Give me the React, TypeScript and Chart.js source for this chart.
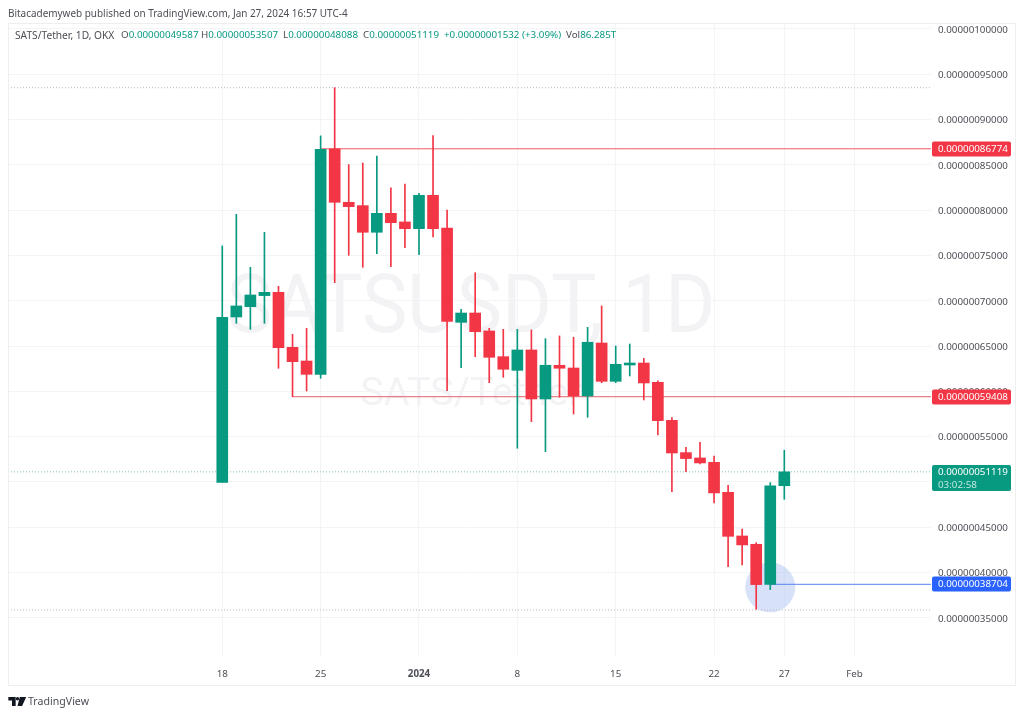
import React, { useEffect, useRef } from "react";
import { Chart, registerables, Plugin } from "chart.js";

Chart.register(...registerables);

// One entry per daily candle, 18 Dec 2023 onward (x = position in this list)
const dates = [
  "2023-12-18", "2023-12-19", "2023-12-20", "2023-12-21", "2023-12-22", "2023-12-23", "2023-12-24",
  "2023-12-25", "2023-12-26", "2023-12-27", "2023-12-28", "2023-12-29", "2023-12-30", "2023-12-31",
  "2024-01-01", "2024-01-02", "2024-01-03", "2024-01-04", "2024-01-05", "2024-01-06", "2024-01-07",
  "2024-01-08", "2024-01-09", "2024-01-10", "2024-01-11", "2024-01-12", "2024-01-13", "2024-01-14",
  "2024-01-15", "2024-01-16", "2024-01-17", "2024-01-18", "2024-01-19", "2024-01-20", "2024-01-21",
  "2024-01-22", "2024-01-23", "2024-01-24", "2024-01-25", "2024-01-26", "2024-01-27",
];
const opens = [
  49.96e-8, 68.21e-8, 69.35e-8, 70.57e-8, 70.93e-8, 64.86e-8, 63.35e-8,
  61.88e-8, 86.774e-8, 80.87e-8, 80.5e-8, 77.56e-8, 79.65e-8, 78.7e-8,
  77.96e-8, 81.64e-8, 78.03e-8, 67.62e-8, 68.65e-8, 66.67e-8, 63.83e-8,
  62.32e-8, 64.57e-8, 59.16e-8, 62.88e-8, 62.58e-8, 59.49e-8, 65.34e-8,
  61.11e-8, 62.91e-8, 63.13e-8, 61.0e-8, 56.8e-8, 53.24e-8, 52.65e-8,
  52.17e-8, 48.86e-8, 44.04e-8, 43.12e-8, 38.704e-8, 49.587e-8,
];
const closes = [
  68.18e-8, 69.43e-8, 70.64e-8, 70.93e-8, 64.82e-8, 63.28e-8, 61.88e-8,
  86.72e-8, 80.87e-8, 80.39e-8, 77.56e-8, 79.65e-8, 78.62e-8, 77.96e-8,
  81.64e-8, 77.96e-8, 67.73e-8, 68.65e-8, 66.59e-8, 63.76e-8, 62.44e-8,
  64.57e-8, 59.16e-8, 62.88e-8, 62.55e-8, 59.49e-8, 65.42e-8, 61.11e-8,
  62.99e-8, 63.13e-8, 60.93e-8, 56.77e-8, 53.2e-8, 52.58e-8, 52.1e-8,
  48.79e-8, 44.0e-8, 43.05e-8, 38.67e-8, 49.587e-8, 51.119e-8,
];
const highs = [
  76.05e-8, 79.54e-8, 73.69e-8, 77.56e-8, 71.6e-8, 66.3e-8, 66.96e-8,
  88.2e-8, 93.52e-8, 85.03e-8, 85.21e-8, 85.98e-8, 82.46e-8, 82.89e-8,
  81.86e-8, 88.23e-8, 80.02e-8, 69.06e-8, 73.1e-8, 66.96e-8, 66.85e-8,
  66.85e-8, 66.78e-8, 65.82e-8, 66.12e-8, 65.97e-8, 67.07e-8, 69.43e-8,
  65.01e-8, 65.23e-8, 63.65e-8, 61.15e-8, 57.1e-8, 53.82e-8, 54.38e-8,
  52.87e-8, 49.63e-8, 44.81e-8, 43.3e-8, 49.93e-8, 53.507e-8,
];
const lows = [
  49.96e-8, 67.51e-8, 66.85e-8, 67.51e-8, 62.55e-8, 59.41e-8, 60.04e-8,
  61.44e-8, 72.0e-8, 75.02e-8, 73.69e-8, 75.2e-8, 73.77e-8, 75.86e-8,
  75.09e-8, 77.04e-8, 60.08e-8, 62.62e-8, 63.83e-8, 60.96e-8, 61.55e-8,
  53.72e-8, 56.66e-8, 53.35e-8, 59.35e-8, 57.5e-8, 57.14e-8, 60.96e-8,
  60.96e-8, 61.7e-8, 59.05e-8, 55.2e-8, 48.93e-8, 51.14e-8, 52.0e-8,
  47.68e-8, 40.65e-8, 40.84e-8, 35.94e-8, 38.12e-8, 48.088e-8,
];

const priceTicks = [
  100e-8, 95e-8, 90e-8, 85e-8, 80e-8, 75e-8, 70e-8, 65e-8, 60e-8, 55e-8, 50e-8, 45e-8, 40e-8, 35e-8,
];
const timeTickDays = [0, 7, 14, 21, 28, 35, 40, 45];
const timeTickLabels = ["18", "25", "2024", "8", "15", "22", "27", "Feb"];

const resistanceLevel = 86.774e-8;
const midLevel = 59.408e-8;
const supportLevel = 38.704e-8;
const lastPrice = 51.119e-8;
const rangeHigh = 93.52e-8;
const rangeLow = 35.87e-8;

const lineStartDays = { resistance: 7, mid: 5, support: 39, dotted: -15.25 };
const lineEndDay = 50.44;
const countdown = "03:02:58";

const UP = "#089981";
const DOWN = "#F23645";
const GRID = "#f3f4f6";
const TEXT = "#4c4e56";
const FONT = '"Noto Sans", sans-serif';
const FONT_SIZE = 9.8;

const fmt = (v: number) => v.toFixed(11);

const overlayBack: Plugin = {
  id: "overlayBack",
  beforeDatasetsDraw(chart) {
    const { ctx, chartArea, scales } = chart;
    const x = scales.x;
    const y = scales.y;
    ctx.save();
    ctx.beginPath();
    ctx.rect(chartArea.left, chartArea.top, chartArea.width, chartArea.height);
    ctx.clip();
    // watermark
    ctx.fillStyle = "#f3f3f5";
    ctx.textAlign = "center";
    ctx.textBaseline = "alphabetic";
    ctx.save();
    ctx.translate(471, 332);
    ctx.scale(0.93, 1);
    ctx.font = `82px Roboto, sans-serif`;
    ctx.fillText("SATSUSDT, 1D", 0, 0);
    ctx.restore();
    ctx.font = `39.5px Roboto, sans-serif`;
    ctx.fillText("SATS/Tether", 471, 405);
    // highlight circle at the support level
    ctx.fillStyle = "rgba(160,185,240,0.42)";
    ctx.beginPath();
    ctx.arc(x.getPixelForValue(39), y.getPixelForValue(supportLevel) + 3, 25, 0, Math.PI * 2);
    ctx.fill();
    ctx.restore();
  },
};

const badges: Plugin = {
  id: "badges",
  afterDraw(chart) {
    const { ctx, scales } = chart;
    const y = scales.y;
    const rows = [
      { v: resistanceLevel, c: DOWN },
      { v: midLevel, c: DOWN },
      { v: supportLevel, c: "#2962ff" },
    ];
    ctx.save();
    ctx.textAlign = "left";
    ctx.textBaseline = "middle";
    ctx.font = `${FONT_SIZE}px ${FONT}`;
    for (const r of rows) {
      const py = Math.round(y.getPixelForValue(r.v));
      ctx.fillStyle = r.c;
      ctx.beginPath();
      ctx.roundRect(932, py - 7.5, 79, 15, 2);
      ctx.fill();
      ctx.fillStyle = "#ffffff";
      ctx.fillText(fmt(r.v), 938, py + 0.5);
    }
    const py = Math.round(y.getPixelForValue(lastPrice));
    ctx.fillStyle = UP;
    ctx.beginPath();
    ctx.roundRect(932, py - 7, 79, 26, 2);
    ctx.fill();
    ctx.fillStyle = "#ffffff";
    ctx.fillText(fmt(lastPrice), 938, py + 0.5);
    ctx.fillStyle = "rgba(255,255,255,0.75)";
    ctx.fillText(countdown, 938, py + 13);
    ctx.restore();
  },
};

export default function App() {
  const ref = useRef<HTMLCanvasElement | null>(null);

  useEffect(() => {
    document.body.style.margin = "0";
    document.body.style.background = "#fff";
    const colors = closes.map((c, i) => (c >= opens[i] ? UP : DOWN));
    const level = (v: number, from: number, color: string, dash: number[] = []) => ({
      type: "line" as const,
      data: [
        { x: from, y: v },
        { x: lineEndDay, y: v },
      ],
      borderColor: color,
      borderWidth: 1,
      borderDash: dash,
      pointRadius: 0,
      order: 3,
    });
    const chart = new Chart(ref.current!, {
      type: "bar",
      data: {
        datasets: [
          level(rangeHigh, lineStartDays.dotted, "#b9bbc1", [1, 2]) as any,
          level(rangeLow, lineStartDays.dotted, "#b9bbc1", [1, 2]) as any,
          level(lastPrice, lineStartDays.dotted, "#7cc6b8", [1, 2]) as any,
          {
            type: "bar",
            data: dates.map((_, i) => ({ x: i, y: [lows[i], highs[i]] })),
            backgroundColor: colors,
            barThickness: 1,
            grouped: false,
            order: 2,
          } as any,
          {
            type: "bar",
            data: dates.map((_, i) => ({ x: i, y: [opens[i], closes[i]] })),
            backgroundColor: colors,
            barThickness: 11,
            grouped: false,
            order: 1,
          } as any,
          level(resistanceLevel, lineStartDays.resistance, "#ef5a66") as any,
          level(midLevel, lineStartDays.mid, "#e0606c") as any,
          level(supportLevel, lineStartDays.support, "#5b82f0") as any,
        ],
      },
      options: {
        animation: false,
        responsive: false,
        events: [],
        layout: { padding: { left: 8, top: 23, right: 8, bottom: 31 } },
        plugins: { legend: { display: false }, tooltip: { enabled: false } },
        scales: {
          x: {
            type: "linear",
            min: -15.25,
            max: 50.44,
            offset: false,
            afterBuildTicks: (s: any) => {
              s.ticks = timeTickDays.map((value) => ({ value }));
            },
            afterFit: (s: any) => {
              s.height = 28;
            },
            grid: { color: GRID, drawTicks: false, lineWidth: 1, offset: false },
            border: { display: false },
            ticks: {
              autoSkip: false,
              maxRotation: 0,
              padding: 11,
              color: TEXT,
              font: (ctx: any) => ({
                family: FONT,
                size: FONT_SIZE,
                weight: timeTickLabels[ctx.index] === "2024" ? "bold" : "normal",
              }),
              callback: (_v: any, i: number) => timeTickLabels[i],
            },
          },
          y: {
            type: "linear",
            position: "right",
            min: 30.68e-8,
            max: 100.66e-8,
            afterBuildTicks: (s: any) => {
              s.ticks = priceTicks.map((value) => ({ value }));
            },
            afterFit: (s: any) => {
              s.width = 85;
            },
            grid: { color: GRID, drawTicks: false, lineWidth: 1 },
            border: { display: false },
            ticks: {
              autoSkip: false,
              padding: 7,
              crossAlign: "near",
              labelOffset: 1,
              color: TEXT,
              font: { family: FONT, size: FONT_SIZE },
              callback: (v: any) => fmt(Number(v)),
            },
          },
        },
      },
      plugins: [overlayBack, badges],
    } as any);
    return () => chart.destroy();
  }, []);

  const green = { color: UP };
  const abs = (left: number, top: number): React.CSSProperties => ({
    position: "absolute",
    left,
    top,
    font: `${FONT_SIZE}px ${FONT}`,
    color: TEXT,
    whiteSpace: "pre",
    lineHeight: "14px",
  });

  return (
    <div style={{ position: "relative", width: 1024, height: 716, overflow: "hidden", background: "#fff" }}>
      <canvas ref={ref} width={1024} height={716} style={{ position: "absolute", left: 0, top: 0, display: "block" }} />
      <div style={{ position: "absolute", left: 8, top: 23, width: 1008, height: 663, border: "1px solid #eeeeef", boxSizing: "border-box" }} />
      <div style={{ ...abs(8, 6), fontSize: 9.95 }}>Bitacademyweb published on TradingView.com, Jan 27, 2024 16:57 UTC-4</div>
      <div style={{ ...abs(15, 28), fontSize: 10.2 }}>SATS/Tether, 1D, OKX</div>
      <div style={abs(121, 28)}>O<span style={green}>0.00000049587</span></div>
      <div style={abs(201, 28)}>H<span style={green}>0.00000053507</span></div>
      <div style={abs(283, 28)}>L<span style={green}>0.00000048088</span></div>
      <div style={abs(363, 28)}>C<span style={green}>0.00000051119</span></div>
      <div style={abs(444, 28)}><span style={green}>+0.00000001532 (+3.09%)</span></div>
      <div style={abs(566, 28)}>Vol<span style={green}>86.285T</span></div>
      <svg style={{ position: "absolute", left: 8, top: 696 }} width="19" height="11" viewBox="0 0 20 12">
        <path d="M0 1h8v10H4V5H0z M12.5 1h7L15 11h-5z" fill="#131722" />
        <circle cx="10" cy="3" r="1.8" fill="#131722" />
      </svg>
      <div style={{ ...abs(28, 694), font: `10.6px ${FONT}` }}>TradingView</div>
    </div>
  );
}
